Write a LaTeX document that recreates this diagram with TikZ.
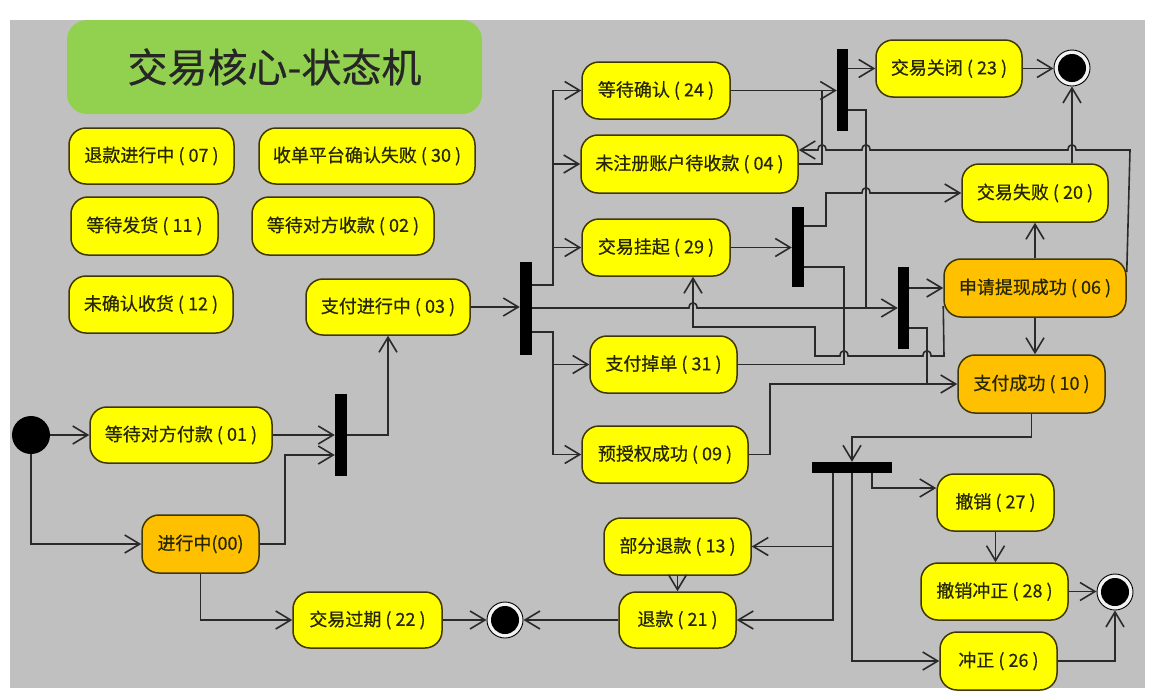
\documentclass[tikz,border=0pt]{standalone}
\usepackage{fontspec}
\newfontfamily\cjk[FakeBold=0.5]{Noto Sans CJK SC}
\usetikzlibrary{arrows.meta,calc}
\definecolor{canvas}{HTML}{C0C0C0}
\definecolor{titlegreen}{HTML}{92D050}
\definecolor{stateyellow}{HTML}{FFFF00}
\definecolor{stateorange}{HTML}{FFC000}
\definecolor{stateedge}{HTML}{3F3600}
\definecolor{wire}{HTML}{2A2A2A}
\definecolor{ink}{HTML}{262600}

\begin{document}
\begin{tikzpicture}[x=1pt,y=-1pt,
  state/.style={draw=stateedge, line width=1.5pt, fill=stateyellow, rounded corners=17pt,
    inner sep=0pt, text=ink, font=\cjk\fontsize{18}{20}\selectfont},
  busy/.style={state, fill=stateorange},
  sync/.style={fill=black, inner sep=0pt},
  start/.style={circle, fill=black, inner sep=0pt, minimum size=38pt},
  stop/.style={circle, draw=black, line width=0.9pt, fill=white!80!canvas, inner sep=0pt,
    minimum size=36pt,
    path picture={\fill[black] (path picture bounding box.center) circle (14pt);}},
  flow/.style={draw=wire, line width=1.6pt, -{Straight Barb[length=15pt,width=18pt]}},
  link/.style={draw=wire, line width=1.6pt},
]
\useasboundingbox (0,0) rectangle (1151,694);
\fill[canvas] (10,20) rectangle (1145,688);

% title
\node[fill=titlegreen, rounded corners=20pt, minimum width=415pt, minimum height=94pt,
  inner sep=0pt, text=black!85, font=\cjk\fontsize{40}{44}\selectfont] (title) at (274.5,67) {交易核心-状态机};

% free-standing states
\node[state, minimum width=165pt, minimum height=56pt] (s07) at (151.5,156) {退款进行中 ( 07 )};
\node[state, minimum width=216pt, minimum height=56pt] (s30) at (367,156) {收单平台确认失败 ( 30 )};
\node[state, minimum width=147pt, minimum height=58pt] (s11) at (144.5,226) {等待发货 ( 11 )};
\node[state, minimum width=182pt, minimum height=58pt] (s02) at (343,226) {等待对方收款 ( 02 )};
\node[state, minimum width=164pt, minimum height=57pt] (s12) at (151,304.5) {未确认收货 ( 12 )};

% connected states
\node[state, minimum width=164pt, minimum height=56pt] (s03) at (388,307) {支付进行中 ( 03 )};
\node[state, minimum width=182pt, minimum height=56pt] (s01) at (181,435) {等待对方付款 ( 01 )};
\node[busy,  minimum width=117pt, minimum height=58pt] (s00) at (200.5,544) {进行中(00)};
\node[state, minimum width=149pt, minimum height=56pt] (s22) at (367.5,620) {交易过期 ( 22 )};
\node[state, minimum width=117pt, minimum height=56pt] (s21) at (677.5,620) {退款 ( 21 )};
\node[state, minimum width=147pt, minimum height=57pt] (s13) at (677.5,546.5) {部分退款 ( 13 )};
\node[state, minimum width=148pt, minimum height=57pt] (s24) at (656,90.5) {等待确认 ( 24 )};
\node[state, minimum width=217pt, minimum height=58pt] (s04) at (689.5,164) {未注册账户待收款 ( 04 )};
\node[state, minimum width=148pt, minimum height=57pt] (s29) at (656,247.5) {交易挂起 ( 29 )};
\node[state, minimum width=147pt, minimum height=57pt] (s31) at (663.5,364.5) {支付掉单 ( 31 )};
\node[state, minimum width=166pt, minimum height=57pt] (s09) at (665,454.5) {预授权成功 ( 09 )};
\node[state, minimum width=146pt, minimum height=57pt] (s23) at (949,68.5) {交易关闭 ( 23 )};
\node[state, minimum width=146pt, minimum height=58pt] (s20) at (1035,193) {交易失败 ( 20 )};
\node[busy,  minimum width=182pt, minimum height=58pt] (s06) at (1035,288) {申请提现成功 ( 06 )};
\node[busy,  minimum width=147pt, minimum height=58pt] (s10) at (1031.5,384) {支付成功 ( 10 )};
\node[state, minimum width=117pt, minimum height=57pt] (s27) at (995.5,502.5) {撤销 ( 27 )};
\node[state, minimum width=147pt, minimum height=57pt] (s28) at (994.5,591.5) {撤销冲正 ( 28 )};
\node[state, minimum width=117pt, minimum height=58pt] (s26) at (998.5,661) {冲正 ( 26 )};

% fork / join bars
\node[sync, minimum width=12pt, minimum height=82pt] (b1) at (341,435) {};
\node[sync, minimum width=12pt, minimum height=93pt] (b2) at (526,308.5) {};
\node[sync, minimum width=11pt, minimum height=82pt] (b4) at (842.5,90) {};
\node[sync, minimum width=12pt, minimum height=80pt] (b6) at (798,247) {};
\node[sync, minimum width=11pt, minimum height=82pt] (b5) at (903.5,308) {};
\node[sync, minimum width=80pt, minimum height=11pt] (b3) at (852,467.5) {};

% initial and final states
\node[start] (init) at (31,435) {};
\node[stop] (f1) at (1072,68) {};
\node[stop] (f2) at (505,620) {};
\node[stop] (f3) at (1115,592) {};

% left part
\draw[flow] (init) -- (s01);
\draw[flow] (init.south) |- (s00.west);
\draw[flow] (s01.east) -- (s01.east -| b1.west);
\draw[flow] (s00.east) -| (285,455) -- (b1.west |- 0,455);
\draw[flow] (b1.east) -| (s03.south);
\draw[flow] (s00.south) |- (s22.west);
\draw[flow] (s22) -- (f2);
\draw[flow] (s21) -- (f2);
\draw[flow] (s13) -- (s21);
\draw[flow] (s03.east) -- (s03.east -| b2.west);

% fork after payment
\draw[flow] (b2.east |- 0,285) -- (553,285) |- (s24.west);
\draw[flow] (s04.west -| 553,0) -- (s04.west);
\draw[flow] (s29.west -| 553,0) -- (s29.west);
\draw[flow] (b2.east |- 0,332) -- (553,332) |- (s09.west);
\draw[flow] (s31.west -| 553,0) -- (s31.west);
\draw[flow] (b2.east |- 0,308) -- (689,308) .. controls (689,301) and (697,301) .. (697,308)
  -- (b5.west |- 0,308);

% upper right
\draw[flow] (s24.east) -- (s24.east -| b4.west);
\draw[link] (s04.east) -| (822,90.5);
\draw[flow] (b4.east |- s23.west) -- (s23.west);
\draw[flow] (s23.east) -- (s23.east -| f1.west);
\draw[link] (b4.east |- 0,110) -| (866,308);
\draw[flow] (s06.east |- 0,272) -- (1130,150) -- (1076,150)
  .. controls (1076,143) and (1068,143) .. (1068,150) -- (870,150)
  .. controls (870,143) and (862,143) .. (862,150) -- (826,150)
  .. controls (826,143) and (818,143) .. (818,150) -- (s04.east |- 0,150);
\draw[flow] (f1.south |- s20.north) -- (f1.south);
\draw[flow] (s06.north) -- (s20.south);
\draw[flow] (s06.south) -- (s06.south |- s10.north);
\draw[flow] (b5.east |- s06.west) -- (s06.west);
\draw[link] (b5.east |- 0,328) -| (927,384);
\draw[flow] (s09.east) -| (770,384) -- (s10.west);

% suspended trade
\draw[flow] (s29.east) -- (s29.east -| b6.west);
\draw[flow] (b6.east |- 0,226) -| (826,193) -- (862,193)
  .. controls (862,186) and (870,186) .. (870,193) -- (s20.west);
\draw[link] (b6.east |- 0,267) -| (844,364.5) -- (s31.east);
\draw[flow] (s06.west |- 0,306) -- (944,356) -- (931,356)
  .. controls (931,349) and (923,349) .. (923,356) -- (848,356)
  .. controls (848,349) and (840,349) .. (840,356) -- (815,356) -- (815,327)
  -- (693,327) -- (s29.south -| 693,0);

% after successful payment
\draw[flow] (s10.south) |- (852,437) -- (b3.north);
\draw[flow] (b3.south -| 872,0) |- (s27.west |- 0,488);
\draw[flow] (s27.south) -- (s27.south |- s28.north);
\draw[flow] (s28.east) -- (s28.east -| f3.west);
\draw[flow] (s26.east) -| (f3.south);
\draw[flow] (b3.south) |- (s26.west);
\draw[flow] (b3.south -| 833,0) |- (s13.east);
\draw[flow] (b3.south -| 833,0) |- (s21.east);
\end{tikzpicture}
\end{document}
